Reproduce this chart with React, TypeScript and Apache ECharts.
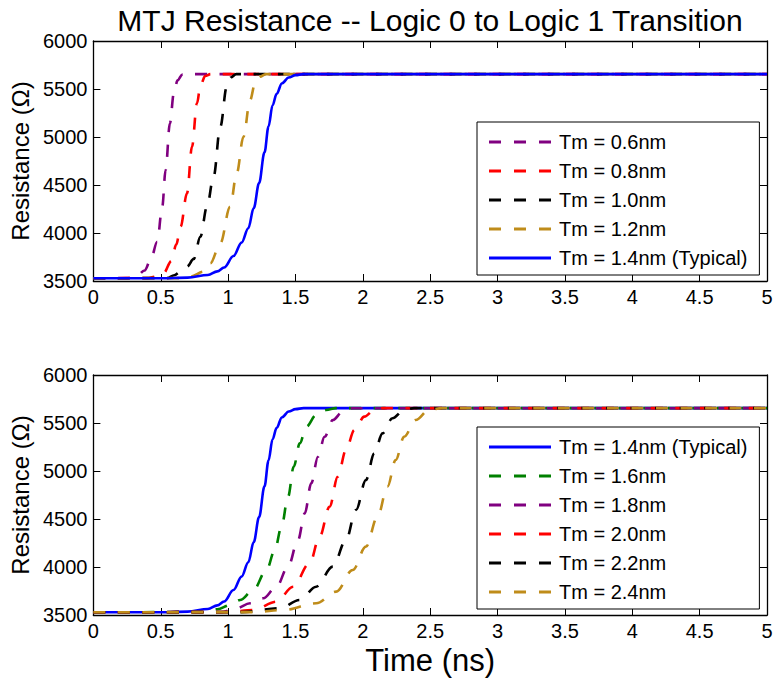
import React, { useEffect, useRef } from "react";
import * as echarts from "echarts";

const FONT = '"Liberation Sans", Arial, Helvetica, sans-serif';

const titleText = "MTJ Resistance -- Logic 0 to Logic 1 Transition";
const xName = "Time (ns)";
const yName = "Resistance (\u03A9)";

// Resistance vs. time curves, [time (ns), resistance (ohm)]
const tm06: [number, number][] = [
  [0, 3528], [0.25, 3530], [0.32, 3550], [0.38, 3610], [0.425, 3719], [0.474, 3909],
  [0.511, 4274], [0.536, 4656], [0.568, 5143], [0.597, 5455], [0.625, 5590],
  [0.66, 5650], [0.7, 5655], [5, 5655],
];
const tm08: [number, number][] = [
  [0, 3528], [0.4, 3530], [0.46, 3545], [0.52, 3580], [0.58, 3710], [0.615, 3880],
  [0.647, 4066], [0.695, 4413], [0.732, 4899], [0.769, 5351], [0.795, 5540],
  [0.83, 5635], [0.87, 5655], [5, 5655],
];
const tm10: [number, number][] = [
  [0, 3528], [0.55, 3530], [0.6, 3560], [0.65, 3600], [0.695, 3649], [0.745, 3730],
  [0.794, 3961], [0.843, 4274], [0.892, 4586], [0.942, 5107], [0.99, 5524],
  [1.02, 5620], [1.06, 5655], [5, 5655],
];
const tm12: [number, number][] = [
  [0, 3528], [0.65, 3530], [0.72, 3545], [0.819, 3597], [0.868, 3684], [0.942, 3893],
  [1.015, 4274], [1.064, 4622], [1.114, 5003], [1.163, 5385], [1.2, 5560],
  [1.237, 5628], [1.28, 5655], [5, 5655],
];
const tm14: [number, number][] = [
  [0, 3528], [0.5, 3529], [0.7, 3535], [0.85, 3562], [0.92, 3600], [0.97, 3640],
  [1.04, 3760], [1.1, 3900], [1.15, 4050], [1.19, 4260], [1.23, 4520], [1.27, 4840],
  [1.3, 5110], [1.33, 5330], [1.36, 5450], [1.4, 5560], [1.45, 5620], [1.5, 5645],
  [1.56, 5655], [5, 5655],
];
const tm16: [number, number][] = [
  [0, 3528], [0.8, 3530], [0.92, 3560], [1.015, 3604], [1.089, 3656], [1.187, 3760],
  [1.285, 3969], [1.347, 4177], [1.396, 4420], [1.445, 4732], [1.487, 5045],
  [1.532, 5289], [1.58, 5462], [1.654, 5583], [1.728, 5635], [1.8, 5655], [5, 5655],
];
const tm18: [number, number][] = [
  [0, 3528], [0.95, 3530], [1.06, 3570], [1.163, 3622], [1.261, 3674], [1.359, 3795],
  [1.445, 4004], [1.519, 4281], [1.569, 4559], [1.617, 4872], [1.667, 5149],
  [1.716, 5357], [1.777, 5531], [1.851, 5618], [1.925, 5653], [5, 5655],
];
const tm20: [number, number][] = [
  [0, 3528], [1.0, 3530], [1.187, 3552], [1.359, 3639], [1.482, 3795], [1.605, 4038],
  [1.679, 4316], [1.753, 4628], [1.814, 4941], [1.875, 5219], [1.937, 5427],
  [2.011, 5566], [2.085, 5635], [2.15, 5655], [5, 5655],
];
const tm22: [number, number][] = [
  [0, 3528], [1.1, 3530], [1.384, 3570], [1.532, 3656], [1.654, 3795], [1.777, 4004],
  [1.875, 4281], [1.949, 4594], [2.023, 4906], [2.085, 5184], [2.146, 5392],
  [2.22, 5549], [2.306, 5635], [2.38, 5655], [5, 5655],
];
const tm24: [number, number][] = [
  [0, 3528], [1.2, 3530], [1.409, 3552], [1.654, 3622], [1.802, 3743], [1.925, 3969],
  [2.023, 4212], [2.109, 4524], [2.183, 4837], [2.244, 5115], [2.306, 5357],
  [2.392, 5531], [2.49, 5635], [2.588, 5655], [5, 5655],
];

const nameTypical = "Tm = 1.4nm (Typical)";

// Upper panel: thinner free layers, drawn in this order (typical on top)
const topNames = ["Tm = 0.6nm", "Tm = 0.8nm", "Tm = 1.0nm", "Tm = 1.2nm", nameTypical];
const topData = [tm06, tm08, tm10, tm12, tm14];
const topColors = ["#800080", "#ff0000", "#000000", "#bf8c1a", "#0000ff"];
const topDashed = [true, true, true, true, false];

// Lower panel: thicker free layers
const bottomNames = [nameTypical, "Tm = 1.6nm", "Tm = 1.8nm", "Tm = 2.0nm", "Tm = 2.2nm", "Tm = 2.4nm"];
const bottomData = [tm14, tm16, tm18, tm20, tm22, tm24];
const bottomColors = ["#0000ff", "#008000", "#800080", "#ff0000", "#000000", "#bf8c1a"];
const bottomDashed = [false, true, true, true, true, true];

const xTicks = { min: 0, max: 5, interval: 0.5 };
const yTicks = { min: 3500, max: 6000, interval: 500 };

const DASH = [12, 12.5];

// Legend keys: three short dashes, or one solid bar
const ICON_DASHED = "path://M0,0H12V3H0Z M25,0H37V3H25Z M50,0H62V3H50Z";
const ICON_SOLID = "path://M0,0H62V3H0Z";

function axisCommon(gridIndex: number) {
  return {
    gridIndex,
    type: "value" as const,
    axisLine: { show: true, onZero: false, lineStyle: { color: "#000", width: 1.3 } },
    axisTick: { show: true, inside: true, length: 7, lineStyle: { color: "#000", width: 1 } },
    splitLine: { show: false },
  };
}

const plainNumber = (v: number) => String(v);

function buildX(gridIndex: number, withName: boolean) {
  return [
    {
      ...axisCommon(gridIndex),
      ...xTicks,
      position: "bottom",
      axisLabel: { fontSize: 20, color: "#000", margin: 6, fontFamily: FONT, formatter: plainNumber },
      name: withName ? xName : "",
      nameLocation: "middle",
      nameGap: 30,
      nameTextStyle: { fontSize: 31, color: "#000", fontFamily: FONT },
    },
    {
      ...axisCommon(gridIndex),
      ...xTicks,
      position: "top",
      axisLabel: { show: false },
    },
  ];
}

function buildY(gridIndex: number) {
  return [
    {
      ...axisCommon(gridIndex),
      ...yTicks,
      position: "left",
      axisLabel: { fontSize: 20, color: "#000", margin: 6, fontFamily: FONT, formatter: plainNumber },
      name: yName,
      nameLocation: "middle",
      nameGap: 58,
      nameTextStyle: { fontSize: 24, color: "#000", fontFamily: FONT },
    },
    {
      ...axisCommon(gridIndex),
      ...yTicks,
      position: "right",
      axisLabel: { show: false },
    },
  ];
}

function buildSeries(
  names: string[],
  data: [number, number][][],
  colors: string[],
  dashed: boolean[],
  axisOffset: number
) {
  return names.map((name, i) => ({
    type: "line",
    name,
    data: data[i],
    xAxisIndex: axisOffset,
    yAxisIndex: axisOffset,
    symbol: "none",
    smooth: 0.35,
    smoothMonotone: "x",
    lineStyle: { color: colors[i], width: 2.6, type: dashed[i] ? DASH : "solid" },
    itemStyle: { color: colors[i] },
    z: 2 + i,
  }));
}

function buildLegend(names: string[], dashed: boolean[], left: number, top: number) {
  return {
    data: names.map((name, i) => ({ name, icon: dashed[i] ? ICON_DASHED : ICON_SOLID })),
    orient: "vertical",
    left,
    top,
    itemWidth: 62,
    itemHeight: 3,
    symbolKeepAspect: false,
    itemGap: 9,
    padding: [10, 12, 7, 12],
    borderColor: "#000",
    borderWidth: 1,
    borderRadius: 0,
    backgroundColor: "#fff",
    selectedMode: false,
    textStyle: { fontSize: 20, color: "#000", fontFamily: FONT, padding: [0, 0, 0, 3] },
  };
}

export default function App() {
  const ref = useRef<HTMLDivElement>(null);

  useEffect(() => {
    if (!ref.current) return;
    const chart = echarts.init(ref.current, undefined, { renderer: "svg" });
    chart.setOption({
      animation: false,
      backgroundColor: "#fff",
      textStyle: { fontFamily: FONT },
      title: {
        text: titleText,
        left: 425,
        textAlign: "center",
        top: 0,
        textStyle: { fontSize: 30, fontWeight: "normal", color: "#000", fontFamily: FONT },
      },
      grid: [
        { left: 89, top: 41, width: 678, height: 240 },
        { left: 89, top: 375, width: 678, height: 240 },
      ],
      xAxis: [...buildX(0, false), ...buildX(1, true)],
      yAxis: [...buildY(0), ...buildY(1)],
      legend: [
        buildLegend(topNames, topDashed, 477, 122),
        buildLegend(bottomNames, bottomDashed, 477, 427),
      ],
      series: [
        ...buildSeries(topNames, topData, topColors, topDashed, 0),
        ...buildSeries(bottomNames, bottomData, bottomColors, bottomDashed, 2),
      ],
    });
    return () => chart.dispose();
  }, []);

  return (
    <div
      ref={ref}
      style={{ position: "fixed", left: 0, top: 0, width: 782, height: 682, background: "#fff" }}
    />
  );
}
